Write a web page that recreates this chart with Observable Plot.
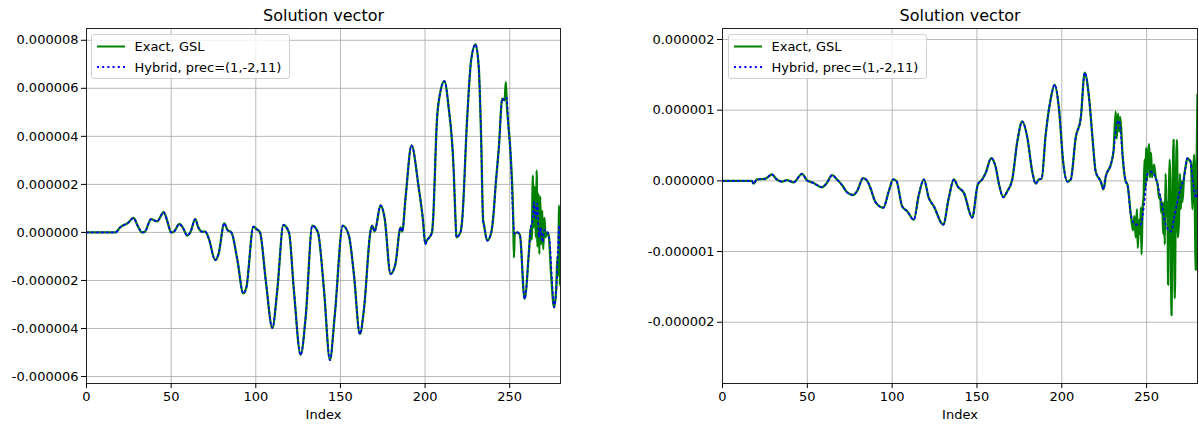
<!DOCTYPE html>
<html><head><meta charset="utf-8">
<script src="https://cdn.jsdelivr.net/npm/d3@7"></script>
<script src="https://cdn.jsdelivr.net/npm/@observablehq/plot@0.6"></script>
<style>
body{margin:0;background:#fff;font-family:"DejaVu Sans",sans-serif;}
#fig{position:relative;width:1199px;height:425px;overflow:hidden;}
.panel{position:absolute;top:0;}
.legend{position:absolute;top:34px;width:199px;height:45px;background:rgba(255,255,255,0.8);border:1px solid #d0d0d0;border-radius:3px;box-sizing:border-box;}
.legend svg{position:absolute;left:0;top:0;overflow:visible;}
</style></head>
<body>
<div id="fig"></div>
<script>
// ---- tick labels ----
const xTicks = [0, 50, 100, 150, 200, 250];
const xLabels = ["0", "50", "100", "150", "200", "250"];
const leftYTicks = [-6, -4, -2, 0, 2, 4, 6, 8]; // units of 1e-6
const leftYLabels = ["-0.000006", "-0.000004", "-0.000002", "0.000000", "0.000002", "0.000004", "0.000006", "0.000008"];
const rightYTicks = [-2, -1, 0, 1, 2];
const rightYLabels = ["-0.000002", "-0.000001", "0.000000", "0.000001", "0.000002"];
const seriesNames = ["Exact, GSL", "Hybrid, prec=(1,-2,11)"];
const titleText = "Solution vector";
const xLabelText = "Index";

// ---- left panel: Hybrid (values in 1e-6) ----
const leftIdx = [0,17,20.3,24.2,27.8,30.2,32.8,34.5,38.1,41.7,45.6,47.6,50,51.6,54.9,56.9,59.5,61.5,64.2,66.1,68.2,70.1,72.3,76,78,81.4,83.3,85.6,89.2,92.6,94.4,98.6,100.4,102.5,105.9,109.8,112.7,116.3,119.6,122.5,126.5,129.5,133.4,136.7,140.3,143.8,146.6,151.4,155,157.9,161.5,163.9,167.8,168.8,170.2,173.7,176.1,179.6,182.5,185.5,186.5,188.5,192,196.2,198.8,200.1,201,204.1,204.7,207,209,211.4,213.9,216.9,218,218.5,220.9,221.9,224.8,227.2,229.8,231.7,233.1,234.3,234.7,236.7,239.1,240.6,241.6,243.6,245.6,247,248.3,249,250.5,252.1,252.9,254.5,256,258.8,261.4,262.4,263.5,264.3,265.3,266.3,267.3,268.3,269.3,270.5,272.3,273.5,275,276.2,277.5,278.2,279.2,280];
const leftHybrid = [0,0,0.24,0.38,0.6,0.28,0,0.03,0.55,0.46,0.84,0.5,0,0.03,0.35,0.2,-0.13,0.03,0.55,0.2,0.03,0.03,-0.27,-1.15,-0.9,0.38,0.1,0,-1.18,-2.54,-2.3,0.24,0.14,0,-2.0,-3.98,-2.4,0.31,0,-2.4,-5.1,-3.5,0.28,0,-2.4,-5.32,-3.5,0.28,-0.13,-1.7,-4.23,-3.2,0.07,0.28,0.04,1.12,0.6,-1.73,-1.31,0.21,0.04,1.46,3.62,1.88,0.49,-0.48,-0.35,0,0.49,4.66,5.84,6.3,5.22,2.58,0.49,-0.2,0,0.49,4.66,7.16,7.83,6.89,3.97,0.49,0.35,-0.34,0,0.9,1.88,3.55,5.57,5.5,5.6,4.66,3.27,0.49,-0.06,0,-0.1,-2.77,-0.76,0.21,0.5,1.26,0.6,1.2,-0.2,0.2,-0.4,0.1,0,-0.3,-2.0,-3.12,-2.4,-1.31,0.3,-1.0];
// left panel: Exact, where it departs from Hybrid
const leftExactIdx = [245.6,247,247.7,248.3,249,250.5,252.1,252.5,252.9,254.5,256,258.8,261.4,262.4,263,263.7,264.2,264.8,265.4,265.9,266.4,267,267.5,268,268.6,269.2,269.8,270.5,271.2,272.3,273,274.5,276.2,277.5,278.2,278.6,279.2,279.6,280];
const leftExactTail = [5.57,5.5,6.26,5.3,4.66,3.27,0.49,-1.04,-0.06,0,-0.1,-2.77,-0.76,0.21,-0.3,2.37,0.2,1.9,-0.2,2.58,-0.6,1.6,-0.9,1.5,-0.5,0.9,-0.7,0.6,-0.2,0,-0.1,-1.8,-3.12,-2.3,-1.0,-1.8,1.12,-2.2,-1.0];

// ---- right panel: Hybrid ----
const rightIdx = [0,17.3,18.3,20.3,25.2,29.1,32,35.1,38,41.9,46.9,49.7,53.7,58.6,61.5,64.6,67.5,70.5,73.3,77,79.4,82.9,85.3,87.2,90.2,94.8,98,100.6,102.5,105.9,108.9,112.8,115.7,118.7,121.6,124.6,130.1,133.4,136.4,138.7,142.3,147.2,150.5,153.1,155.1,158.4,161,163,165.5,167.8,170.8,173.8,176.7,179.7,182.6,184.6,186.5,188.1,190.5,193.4,195.8,198.3,200.9,203.3,205.3,208.2,211.2,213.5,216.1,218.1,220,223,224.6,225.9,228.9,230.5,232.4,233.8,235.8,237.7,238.7,240.7,243.6,246.5,248.5,250.4,252.4,255.4,257.4,259.4,261.3,264.3,266.2,268.1,270.1,272,274,275.6,277.1,279.1,280];
const rightHybrid = [0,0,-0.04,0.02,0.03,0.09,0.02,-0.01,0.01,-0.02,0.1,0.01,-0.03,-0.09,-0.03,0.08,0.02,-0.06,-0.16,-0.2,-0.14,0.04,0,-0.1,-0.3,-0.38,-0.15,0.02,0,-0.36,-0.43,-0.55,-0.2,0.02,-0.24,-0.36,-0.62,-0.24,0.02,-0.08,-0.17,-0.52,-0.05,0.02,0.11,0.32,0.2,-0.05,-0.23,-0.15,0.02,0.56,0.84,0.61,0.13,-0.04,0.02,0.03,0.65,1.15,1.36,1.03,0.25,-0.01,0.02,0.61,0.89,1.53,1.17,0.61,0.13,-0.01,-0.12,0.06,0.23,0.42,0.8,0.85,0.37,-0.01,-0.05,-0.48,-0.62,-0.62,-0.34,0.09,0.13,0.04,-0.15,-0.39,-0.62,-0.72,-0.53,-0.3,-0.1,0.04,0.32,0.3,0.04,-0.24,-0.12];
// right panel: Exact, where it departs from Hybrid
const rightExactIdx = [230.5,231.8,232.4,233.2,233.8,234.5,235.8,237.7,238.7,240.7,242,242.8,243.6,244.3,244.8,245.5,246.2,246.6,247,247.6,248.3,248.8,249.3,249.7,250.3,250.8,251.5,252,252.6,253.2,254.4,255.4,256.5,257.4,258,258.6,259.2,259.8,260.3,260.7,261.2,261.8,262.3,262.7,263.2,263.6,264.2,264.7,265.3,265.9,266.3,266.6,267.2,267.9,268.4,269,269.6,270.2,270.7,271.1,272,273,274,275,276.2,277,277.5,278,278.5,279,279.5,280];
const rightExactTail = [0.42,0.98,0.6,0.95,0.7,0.9,0.37,-0.01,-0.05,-0.48,-0.7,-0.5,-0.8,-0.4,-0.95,-0.55,-0.75,-0.38,-1.04,-0.4,-0.2,0.3,-0.1,0.47,0,0.35,0.52,0.05,0.4,0.05,0.23,0.04,-0.05,-0.25,-0.2,-0.45,-0.3,-0.75,-0.3,-0.9,0.1,-0.5,-0.3,-1.47,-0.1,0.3,-0.6,-1.9,-0.3,0.58,-0.7,-1.66,-0.2,0.58,-0.8,-0.6,0.1,-0.4,0,-0.3,0.04,0.2,0.32,0.3,0.25,-0.4,0.1,0.37,-0.5,-1.26,0.2,1.22];

function series(idx, vals) { return idx.map((i, k) => ({i, v: vals[k]})); }
function exactSeries(idx, vals, tIdx, tVals) {
  return series(idx, vals).filter(d => d.i < tIdx[0]).concat(series(tIdx, tVals));
}

const GREEN = "#008000", BLUE = "#0000ff", GRID = "#b0b0b0";
const DASH = "1.6,3.4";

function panel({yDomain, yTicks, yLabels, hybrid, exact, width, marginLeft, marginRight}) {
  return Plot.plot({
    width, height: 425,
    marginLeft, marginRight, marginTop: 28, marginBottom: 42,
    style: {fontFamily: "DejaVu Sans, sans-serif", color: "#000", background: "transparent", overflow: "visible"},
    x: {domain: [0, 280], axis: null},
    y: {domain: yDomain, axis: null},
    marks: [
      Plot.gridX(xTicks, {stroke: GRID, strokeOpacity: 1, strokeWidth: 0.9}),
      Plot.gridY(yTicks, {stroke: GRID, strokeOpacity: 1, strokeWidth: 0.9}),
      Plot.line(exact, {x: "i", y: "v", stroke: GREEN, strokeWidth: 2.3, curve: "monotone-x", clip: true}),
      Plot.line(hybrid, {x: "i", y: "v", stroke: BLUE, strokeWidth: 1.7, strokeDasharray: DASH, curve: "monotone-x", clip: true}),
      Plot.frame({stroke: "#222", strokeWidth: 1}),
      Plot.axisX({ticks: xTicks, tickSize: 5, tickPadding: 3, fontSize: 13, label: null,
        tickFormat: d => xLabels[xTicks.indexOf(d)]}),
      Plot.axisY({ticks: yTicks, tickSize: 5, tickPadding: 3, fontSize: 13, label: null,
        tickFormat: d => yLabels[yTicks.indexOf(d)]}),
      Plot.text([titleText], {frameAnchor: "top", dy: -13, fontSize: 16, fill: "#000", lineAnchor: "middle"}),
      Plot.text([xLabelText], {frameAnchor: "bottom", dy: 31, fontSize: 13, fill: "#000", lineAnchor: "middle"})
    ]
  });
}

function legend(left) {
  const div = document.createElement("div");
  div.className = "legend";
  div.style.left = left + "px";
  div.innerHTML = `<svg width="199" height="45">
    <line x1="5" x2="33" y1="11.5" y2="11.5" stroke="${GREEN}" stroke-width="2"/>
    <line x1="5" x2="33" y1="32" y2="32" stroke="${BLUE}" stroke-width="2" stroke-dasharray="2,3.2"/>
    <text x="42.5" y="11.5" dominant-baseline="central" font-size="13" font-family="DejaVu Sans" fill="#000">${seriesNames[0]}</text>
    <text x="42.5" y="32" dominant-baseline="central" font-size="13" font-family="DejaVu Sans" fill="#000">${seriesNames[1]}</text>
  </svg>`;
  return div;
}

const fig = document.getElementById("fig");
const left = panel({
  yDomain: [-6.29, 8.49], yTicks: leftYTicks, yLabels: leftYLabels,
  hybrid: series(leftIdx, leftHybrid),
  exact: exactSeries(leftIdx, leftHybrid, leftExactIdx, leftExactTail),
  width: 600, marginLeft: 86, marginRight: 40
});
left.classList.add("panel"); left.style.left = "0px";
fig.appendChild(left);
const right = panel({
  yDomain: [-2.867, 2.156], yTicks: rightYTicks, yLabels: rightYLabels,
  hybrid: series(rightIdx, rightHybrid),
  exact: exactSeries(rightIdx, rightHybrid, rightExactIdx, rightExactTail),
  width: 599, marginLeft: 122, marginRight: 2
});
right.classList.add("panel"); right.style.left = "600px";
fig.appendChild(right);
fig.appendChild(legend(91));
fig.appendChild(legend(728));
</script>
</body></html>
